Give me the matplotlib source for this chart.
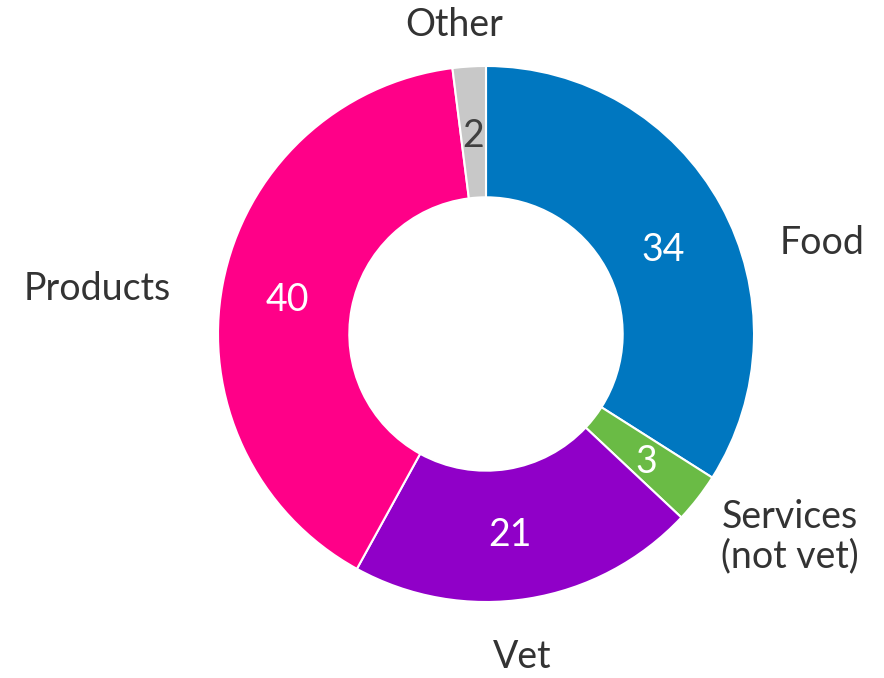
import matplotlib
matplotlib.use("Agg")
import matplotlib.pyplot as plt
import numpy as np

plt.rcParams['font.family'] = ['Lato', 'DejaVu Sans']

categories = ["Food", "Services\n(not vet)", "Vet", "Products", "Other"]
values = [34, 3, 21, 40, 2]
colors = ["#0077C0", "#6ABB45", "#9000C8", "#FF0088", "#C8C8C8"]
value_colors = ["white", "white", "white", "white", "#404040"]
# outer label placement (in units of the outer radius)
label_pos = [(1.254, 0.340), (1.134, -0.757), (0.134, -1.205), (-1.451, 0.168), (-0.119, 1.153)]
# small nudges for the value labels (x, y in units of the outer radius)
value_nudge = [(0.0, -0.05), (0.0, -0.015), (-0.03, -0.005), (0.0, -0.015), (0.0, -0.015)]

fig = plt.figure(figsize=(8.84, 6.78), dpi=100)
ax = fig.add_axes([0, 0, 1, 1])

wedges, _ = ax.pie(values, colors=colors, startangle=90, counterclock=False,
                   radius=1.0,
                   wedgeprops=dict(width=0.49, edgecolor="white", linewidth=1.5))

start = 90.0
total = sum(values)
for v, tc, (dx, dy) in zip(values, value_colors, value_nudge):
    mid = start - v / total * 360 / 2
    r = 0.755
    ax.text(r * np.cos(np.radians(mid)) + dx, r * np.sin(np.radians(mid)) + dy, str(v),
            ha="center", va="center", fontsize=27, color=tc)
    start -= v / total * 360

for name, (x, y) in zip(categories, label_pos):
    ax.text(x, y, name, ha="center", va="center", fontsize=27, color="#333333",
            linespacing=1.1)

# data coords: center at pixel (486, 334) with outer radius 268 px
W, H = 884, 678
cx, cy, R = 486, 678 - 334, 268
ax.set_xlim(-cx / R, (W - cx) / R)
ax.set_ylim(-cy / R, (H - cy) / R)
ax.set_aspect("equal")
ax.axis("off")

fig.savefig("out.png", dpi=100)
